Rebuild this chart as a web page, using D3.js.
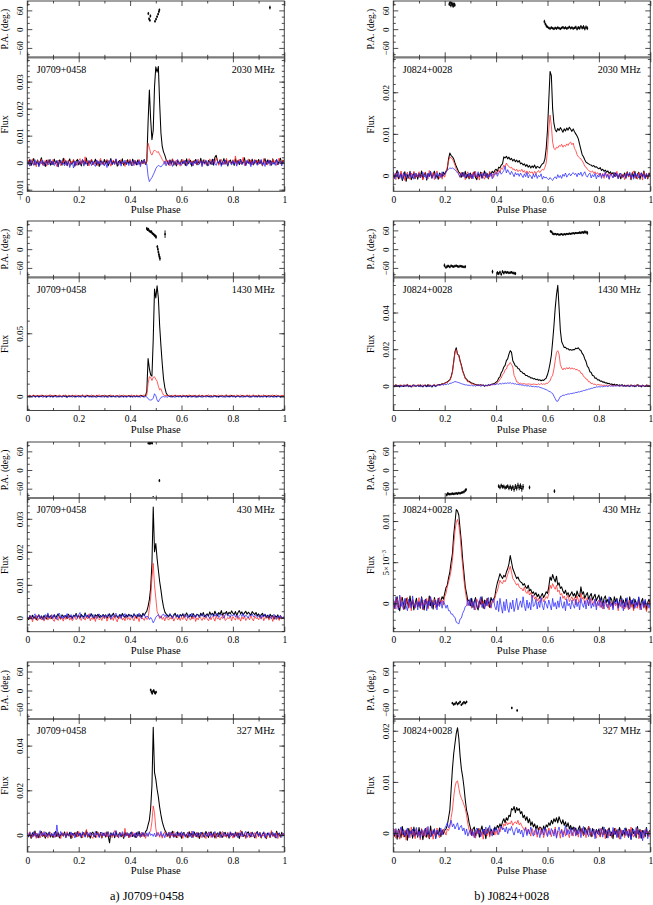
<!DOCTYPE html>
<html><head><meta charset="utf-8">
<script src="https://cdn.jsdelivr.net/npm/d3@7"></script>
<style>body{margin:0;background:#fff}svg{display:block}</style>
</head><body><svg id="c" width="653" height="905"></svg>
<script>
// ---------------- DATA ----------------
const STEP = 0.005;   // pulse-phase bin width of the profile arrays
const UNIT = 1e-4;    // flux unit of the profile arrays
const psrNames = ["J0709+0458","J0824+0028"];
const captions = ["a) J0709+0458","b) J0824+0028"];
const freqLabels = ["2030 MHz","1430 MHz","430 MHz","327 MHz"];
const phaseTicks = [0,0.2,0.4,0.6,0.8,1];
const phaseMinor = [0.1,0.3,0.5,0.7,0.9];
const paTicks = [-60,0,60];
const paMinor = [-80,-40,-20,20,40,80];

// Flux tick labels per panel
const FT_0709_2030 = [-0.01,0,0.01,0.02,0.03];
const FT_0709_1430 = [0,0.05];
const FT_0709_430  = [0,0.01,0.02,0.03];
const FT_0709_327  = [0,0.02,0.04];
const FT_0824_2030 = [0,0.01,0.02];
const FT_0824_1430 = [0,0.02,0.04];
const FT_0824_430  = [0,0.005,0.01];
const FT_0824_327  = [0,0.01,0.02];

// ---- J0709+0458 2030 MHz ----
const I_0709_2030 = [8,-5,12,-10,3,15,-8,-2,10,-12,5,18,-6,2,-14,9,-3,11,-9,4,
-7,13,-2,6,-15,10,1,-9,16,-4,7,-11,3,14,-6,-1,9,-13,5,12,
-8,4,-12,10,2,-5,17,-10,6,-3,11,-7,0,13,-9,5,-14,8,3,-6,
12,-4,9,-11,1,15,-7,6,-2,10,-13,4,8,-5,14,-9,2,-6,11,-3,
7,-10,13,-4,5,-8,10,-2,-6,9,-3,12,-7,5,150,269,160,85,120,280,
355,335,356,220,110,60,40,28,12,5,-8,10,-4,13,-9,3,-12,8,1,-6,
11,-3,7,-10,14,-5,2,9,-13,6,-1,12,-8,4,-4,16,-7,10,-2,5,
-11,8,3,-6,13,-9,20,27,6,-4,11,-8,2,15,-5,9,-12,4,10,-3,
6,-10,14,-2,8,-7,12,-4,3,18,-9,5,-1,11,-6,13,-8,2,9,-5,
12,-3,7,-11,4,15,-6,10,-2,8,-9,14,-4,3,11,-7,6,16,-5,9,2];
const L_0709_2030 = [-4,10,-12,6,14,-8,3,-15,9,1,-6,13,-10,4,8,-13,11,-2,6,-9,
12,-5,2,-14,9,5,-11,7,-3,15,-8,1,10,-12,6,-4,13,-7,3,-10,
8,15,-6,11,-9,22,-3,7,-12,5,13,-8,2,-5,10,-11,4,16,-7,1,
-9,6,12,-4,8,-13,3,10,-6,14,-2,-10,7,11,-5,2,-14,9,-1,6,
13,-7,4,-11,9,2,-6,12,-9,5,-3,10,-8,8,72,55,35,28,40,47,
42,38,41,30,22,12,5,-6,11,-3,8,-12,5,14,-7,2,10,-9,4,-13,
7,12,-5,9,-10,3,15,-4,6,-12,10,1,-8,13,-3,7,-11,5,11,-6,
2,-9,14,4,-6,10,-2,18,8,-10,5,12,-7,3,-4,16,-8,9,1,-5,
11,-3,25,-8,6,13,-5,2,20,-11,7,-1,14,-6,9,-9,4,12,-2,8,
-7,10,3,-12,15,-4,6,-9,11,2,-6,13,-3,8,-10,5,17,-5,1,9,-4];
const V_0709_2030 = [-6,4,-13,8,-2,-10,11,-7,3,-15,6,-4,9,-12,1,7,-9,-3,12,-8,
5,-11,-2,8,-14,3,10,-6,-1,-12,7,-9,4,-18,-5,2,-20,6,-10,3,
9,-7,-1,12,-13,5,-4,-9,8,2,-11,6,-6,-14,10,-3,4,-10,7,-5,
-12,3,-18,8,-4,11,-8,1,-7,14,-2,-10,6,-13,5,-1,9,-8,2,-11,
7,-4,-12,10,-6,3,-9,8,-15,4,-1,11,-7,-5,-50,-70,-62,-55,-45,-35,
-22,-15,-10,-13,-16,-10,-5,6,-12,3,-8,10,-4,-14,7,-2,-9,12,-6,1,
-10,5,-3,9,-13,-1,8,-7,2,-11,6,-4,11,-9,-2,7,-15,4,-6,10,
-3,-12,6,1,-8,13,-5,-10,4,-2,9,-14,3,-7,10,-4,-11,5,0,-9,
8,-6,2,-13,7,-3,11,-8,-1,5,-12,9,-4,3,-15,6,-7,10,-2,-10,
4,-5,12,-9,1,-14,7,-3,9,-11,5,-6,2,-10,13,-8,-1,6,-12,3,-5];
const PA_0709_2030 = [[0.471,50,5],[0.474,33,5],[0.477,28,4],[0.479,42,5],[0.497,25,4],[0.501,32,4],[0.505,40,4],[0.509,48,4],[0.512,56,4],[0.514,62,4],[0.944,69,6]];

// ---- J0709+0458 1430 MHz ----
const I_0709_1430 = [3,-2,5,-4,1,6,-3,0,4,-5,2,-1,7,-3,3,-6,1,5,-2,4,
-4,2,6,-1,-5,3,0,-3,5,-2,4,-6,1,3,-4,6,-1,2,-5,0,
4,-3,1,5,-2,-4,3,7,-1,2,-5,4,0,-3,6,-2,1,-4,3,5,
-1,4,-5,2,6,-3,0,3,-4,1,5,-2,-6,4,2,-1,3,-5,1,6,
-3,2,-1,5,-4,3,0,-2,4,6,-3,1,5,40,300,220,170,160,450,850,
780,876,780,560,400,260,140,70,28,10,3,-2,4,-5,1,6,-3,2,-1,5,
-4,1,3,-2,6,-5,0,4,-1,-3,5,2,-6,3,1,-4,7,-2,0,3,
5,-3,-1,4,-5,2,6,-2,1,-4,3,0,5,-6,2,4,-3,1,-1,6,
-2,3,-5,1,4,-1,-4,6,2,-3,0,5,-2,3,-6,1,4,-1,2,-4,
6,-2,1,-5,3,4,-3,0,5,-1,2,-4,6,-2,-3,4,1,-5,3,0,2];
const L_0709_1430 = [6,1,9,-1,5,10,2,7,-2,8,4,11,0,6,-3,9,3,7,12,1,
5,10,-1,6,2,9,4,-2,8,3,11,0,7,5,-1,10,2,6,9,3,
-2,8,4,11,1,6,9,-1,5,3,10,2,7,-2,8,4,12,0,6,3,
9,1,5,-1,7,10,3,6,-2,8,4,2,11,0,5,9,3,7,-1,6,
4,10,2,7,-1,8,5,3,9,1,6,11,0,10,100,155,150,125,150,155,
135,120,80,50,60,30,10,5,8,2,6,9,-1,7,3,10,4,1,8,5,
2,9,6,-1,7,4,11,1,5,8,3,10,-2,6,9,2,7,4,0,8,
5,11,3,7,-1,9,4,6,2,10,1,8,5,-2,7,12,3,6,9,0,
4,8,1,10,6,3,9,-1,7,5,2,11,4,8,0,6,10,3,7,2,
9,-1,6,4,11,2,7,5,-2,8,3,10,1,6,9,4,0,7,5,8,3];
const V_0709_1430 = [-5,1,-8,-2,-6,2,-9,-3,0,-7,-4,3,-10,-1,-5,-8,1,-3,-6,-2,
-9,0,-4,-7,2,-5,-1,-8,-3,1,-6,-10,-2,-4,3,-7,-1,-9,-3,0,
-6,-2,-8,1,-4,-9,-3,2,-7,-5,0,-8,-2,-6,-10,-1,-4,1,-7,-3,
-8,-1,-5,-9,0,-4,-6,2,-3,-8,-2,-7,1,-5,-3,-9,-1,-6,-4,0,
-7,-3,-9,-1,-5,2,-6,-4,-8,0,-3,-7,-2,-5,-20,-28,-30,-28,-15,20,
5,-30,-45,-25,-10,-5,-2,-6,-3,-8,1,-4,-7,-2,-5,-9,0,-3,-6,-1,
-8,-4,2,-6,-3,-9,-1,-5,-7,0,-4,-8,-2,-6,1,-3,-9,-5,-1,-7,
-3,0,-6,-8,-2,-5,1,-7,-4,-9,-1,-3,-6,2,-8,-4,-2,-7,-5,0,
-6,-2,-9,-4,1,-7,-3,-5,-8,-1,-6,0,-4,-9,-2,-5,2,-7,-3,-6,
-1,-8,-4,-2,-6,0,-9,-3,-5,-7,1,-4,-8,-2,-6,-3,-1,-9,-5,-2,-4];
const PA_0709_1430 = [[0.465,66,5],[0.468,62,4],[0.471,64,4],[0.474,59,4],[0.477,57,4],[0.480,55,4],[0.483,56,4],[0.486,51,4],[0.489,49,4],[0.492,47,4],[0.495,44,4],[0.498,42,5],[0.501,39,6],[0.506,8,5],[0.508,0,5],[0.510,-9,5],[0.512,-17,6],[0.514,-24,6],[0.516,-30,7],[0.536,48,12]];

// ---- J0709+0458 430 MHz ----
const I_0709_430 = [2,-5,6,-3,8,-1,4,-6,3,9,-2,5,-4,7,1,-3,10,0,6,-2,
4,8,-1,6,12,2,-3,9,5,1,7,-2,11,3,6,-1,8,4,13,2,
7,-1,10,5,3,15,2,8,0,6,12,4,-2,9,5,11,1,7,3,10,
4,9,-1,6,12,3,8,14,2,7,5,-1,10,4,13,6,1,9,3,11,
5,8,2,12,6,0,10,4,9,3,14,7,15,20,35,55,90,165,336,200,
225,180,144,110,84,55,33,18,12,8,3,11,6,1,9,14,4,7,-1,10,
5,12,2,8,15,6,3,10,-1,13,7,4,11,9,2,14,6,16,3,8,
12,5,18,9,14,7,20,11,6,16,10,22,8,15,13,19,9,17,12,21,
14,10,19,7,16,22,12,18,9,15,20,11,17,13,8,19,14,10,16,6,
12,3,9,14,5,10,1,8,-2,11,4,7,-4,6,2,9,-3,5,0,-1,3];
const L_0709_430 = [-8,2,-5,6,-12,0,-3,8,-9,-1,5,-6,3,-10,-2,7,-7,1,-4,10,
-6,-11,3,-2,-8,6,-4,1,-10,4,-5,-1,8,-7,2,-9,-3,5,-6,0,
9,-4,-8,2,-1,-7,5,-3,12,-9,0,-5,3,-11,6,-2,-6,1,-8,4,
-3,7,-10,-1,4,-6,2,-8,8,-4,-12,3,-2,5,-7,0,-9,6,-5,1,
-7,3,-2,-9,5,-4,1,-11,6,-3,-1,-8,4,-5,-2,30,60,120,165,100,
60,20,10,-2,6,-5,2,-9,4,-3,-7,1,-4,5,-10,-1,3,-6,0,-8,
2,-5,7,-3,-9,4,-1,-7,3,-4,8,-11,0,-6,5,-2,-8,1,-5,6,
-3,-9,2,-6,4,-1,-10,7,-4,0,-7,3,-2,9,-8,-5,1,-3,6,-9,
4,-2,-7,8,-5,1,-10,3,-4,6,-8,-1,2,-6,7,-3,-9,5,-2,0,
-6,3,-4,8,-9,1,-2,5,-7,-1,4,-11,6,-3,-5,2,-8,7,-4,-1,2];
const V_0709_430 = [4,-3,8,1,-5,6,12,-2,3,9,-4,7,0,-6,10,2,15,-1,5,8,
-2,11,4,-5,9,14,0,6,-3,8,2,13,-1,5,10,-4,7,3,12,-2,
9,16,2,6,-3,11,4,8,-1,13,5,0,10,3,-2,7,12,1,6,9,
-1,8,3,12,5,-3,10,2,7,14,0,6,11,-2,9,4,13,1,8,5,
10,3,-1,12,6,9,2,14,4,-2,8,11,0,5,3,-5,1,-5,-15,-8,
2,6,10,3,-1,8,12,4,9,1,6,13,5,-2,10,7,3,11,0,8,
4,9,12,2,7,-1,10,5,14,3,8,0,11,6,2,9,13,4,7,1,
10,5,-2,8,12,3,9,6,14,1,7,11,4,-1,9,13,5,8,2,10,
6,12,3,9,0,7,11,4,13,2,8,5,-1,10,6,12,3,7,9,1,
5,10,-2,8,3,12,6,0,9,4,-3,7,11,2,-4,6,1,8,-1,3,0];
const PA_0709_430 = [[0.471,86,4],[0.474,88,4],[0.477,85,4],[0.480,87,4],[0.483,89,4],[0.486,86,4],[0.490,-88,4],[0.514,-34,5]];

// ---- J0709+0458 327 MHz ----
const I_0709_327 = [12,-8,5,-15,10,-3,18,-10,2,-12,8,15,-6,3,-14,9,-2,13,-9,6,
-11,4,16,-7,10,-13,1,8,-5,14,-10,6,-3,12,-16,7,-1,10,-8,15,
-4,9,-12,5,11,-6,20,-9,3,-14,7,13,-2,-10,16,4,-7,11,-13,8,
2,-9,14,-5,-35,10,-3,7,-12,15,-6,1,11,-8,5,-15,12,-2,9,-10,
6,13,-7,3,-11,10,-4,16,-9,2,8,-6,15,22,45,67,120,220,482,280,
250,205,170,125,90,60,40,22,12,-5,10,-13,6,17,-8,3,-11,14,-2,9,
-14,7,11,-6,2,-12,15,-4,8,-10,13,1,-7,10,-15,5,12,-3,-9,16,
3,-11,8,14,-5,10,-13,2,9,-7,15,-2,-10,6,12,-8,4,-14,11,-1,
7,-9,13,-4,10,-15,5,16,-6,2,-11,9,14,-3,-8,12,1,-12,8,15,
-5,10,-13,4,11,-7,-16,9,2,-10,14,-4,6,-12,17,-1,8,-9,12,-3,5];
const L_0709_327 = [-10,6,15,-12,3,-7,11,-15,8,1,-13,10,-4,16,-9,5,-14,7,12,-6,
2,-11,9,14,-8,4,-16,11,-3,7,-12,15,-5,1,10,-14,6,-2,13,-9,
16,-6,3,-13,10,-1,25,-10,5,12,-8,-15,7,2,-11,14,-4,9,-14,6,
-3,11,-9,15,-6,4,-12,8,20,-7,1,-14,12,-2,6,-10,30,-5,9,-13,
3,-8,14,-4,10,-12,5,-1,-9,13,-6,8,-15,4,-3,11,20,60,130,100,
30,-5,12,-10,6,-14,3,15,-7,-2,10,-12,8,-6,16,-9,1,-13,11,-4,
5,-15,9,2,-11,13,-7,-3,18,-10,4,-8,12,-14,6,1,-12,10,-5,-16,
8,-4,14,-11,3,-7,11,-15,6,-1,-13,9,16,-8,2,-10,13,-5,-9,10,
-14,5,-6,12,-11,1,22,-9,-3,10,-16,7,4,-12,14,-7,-2,11,-15,6,
-8,13,-12,3,-5,10,-15,-1,8,-13,20,-6,2,-10,11,-16,5,-9,-4,9,-6];
const V_0709_327 = [5,-8,12,2,-10,15,-3,8,-12,6,20,-5,10,-1,14,-9,3,11,-6,7,
-4,13,-10,45,1,-7,16,-2,6,6,-11,10,3,-6,14,-1,8,-13,5,12,
-3,9,-8,15,2,-10,7,12,-5,11,-2,4,-9,16,0,8,-12,6,13,-4,
10,-7,3,14,-9,6,-1,12,-6,20,2,-11,8,-4,15,1,-8,11,-2,7,
-10,13,4,-6,9,-13,15,-3,7,-8,12,1,-5,10,-7,14,-2,5,-6,8,
-9,11,2,-4,16,-7,6,-12,10,3,-6,14,-1,8,-11,5,12,-3,9,-8,
15,-2,7,-10,4,12,-6,9,-13,18,1,-5,11,-9,6,13,-3,-8,10,2,
-7,14,-4,8,-11,5,16,-1,-9,10,3,-12,7,12,-5,0,9,-10,15,-3,
6,-9,11,2,-13,8,-4,14,-7,5,17,-11,1,9,-6,13,-2,-10,7,12,
-5,10,-8,3,15,-12,6,-1,11,-9,4,13,-6,8,-14,2,10,-4,-11,7,3];
const PA_0709_327 = [[0.480,2,4],[0.483,-4,4],[0.486,-9,4],[0.489,-3,4],[0.492,0,4],[0.495,-6,4],[0.498,-9,4],[0.501,-5,4]];

// ---- J0824+0028 2030 MHz ----
const I_0824_2030 = [8,-5,3,12,-8,-2,6,-12,-4,9,-14,2,-6,10,-10,-3,7,-7,4,-9,
5,-4,11,-8,2,7,-11,4,-2,9,-6,3,10,-5,1,-9,6,2,-3,8,
3,10,15,40,54,48,45,40,30,22,15,8,5,-4,7,-2,10,-6,3,-8,
6,-7,2,9,-5,-10,4,-3,8,-6,1,11,-4,5,-8,7,3,10,6,12,
15,10,20,18,25,28,45,42,46,40,44,38,41,35,39,33,37,32,36,28,
30,25,28,22,26,20,24,18,23,19,25,17,22,20,18,24,28,30,40,65,
110,180,250,240,160,125,110,105,113,108,115,110,104,112,107,114,109,116,111,106,
112,105,100,95,88,75,62,50,45,38,32,30,28,26,25,22,24,20,21,18,
16,19,12,15,10,13,8,11,5,9,3,7,-2,6,0,-5,4,-8,2,-3,
6,-6,9,-2,4,-10,7,-4,10,-7,3,8,-9,5,-3,11,-6,2,-8,6,0];
const L_0824_2030 = [-6,4,-10,7,2,-8,11,-3,5,-12,1,8,-5,-9,6,-2,10,-7,3,-4,
9,-6,2,-11,5,8,-3,-8,12,0,-5,7,-10,4,11,-2,-7,5,-9,3,
-4,8,20,35,45,42,40,33,25,15,10,2,-5,8,-3,6,-10,4,9,-6,
2,-8,7,-3,10,-6,1,-11,5,8,-4,-9,6,2,-7,10,-2,4,-5,8,
10,3,14,8,18,15,25,20,30,24,22,18,20,14,16,11,15,9,13,10,
15,8,12,5,11,4,10,6,9,2,10,5,8,12,7,11,15,13,20,30,
60,110,145,120,80,65,62,68,66,72,70,75,68,73,70,76,72,78,80,74,
78,65,60,50,45,42,40,35,30,22,20,15,12,10,8,11,5,9,3,7,
1,6,-3,5,-7,8,-2,4,-9,6,0,-5,7,-3,10,-8,2,5,-6,3,
-10,4,8,-4,2,-8,6,11,-5,1,-9,7,-2,4,-11,9,-3,5,-7,2,-3];
const V_0824_2030 = [2,-8,5,-4,9,-6,3,-10,7,-2,4,-7,0,8,-5,3,-9,6,-3,1,
5,-6,-1,8,-4,2,-9,6,-3,10,-7,1,4,-8,7,-2,3,-5,9,-1,
4,8,12,15,18,17,18,16,14,10,6,3,-4,5,-2,8,-6,2,-3,6,
-5,3,-8,7,1,-4,9,-2,4,-7,5,-1,8,-6,2,-3,6,-8,3,1,
8,-2,5,10,3,7,12,22,6,14,8,2,10,4,-3,7,1,5,-2,6,
0,-5,4,-3,7,-6,2,-1,-8,3,-4,5,-7,0,-3,4,-9,-2,-6,-4,
-8,-10,-5,-9,-12,-6,-3,-8,2,-5,0,-7,3,-2,6,-4,1,5,-1,4,
7,2,5,-3,6,1,8,-2,4,9,0,-4,3,6,-6,2,-3,5,-8,1,
-4,6,-7,3,-2,8,-5,2,-9,4,0,-6,7,-3,5,-8,1,6,-4,-2,
3,-7,5,-1,8,-5,2,-9,6,-3,4,-6,1,7,-4,3,-8,5,-2,0,2];
const PA_0824_2030 = [[0.218,80,6],[0.221,85,5],[0.224,76,6],[0.227,83,5],[0.230,79,6],[0.233,74,6],[0.236,81,5],[0.239,77,6],
[0.588,24,6],[0.592,16,5],[0.596,10,5],[0.600,7,4],[0.605,4,4],[0.610,2,4],[0.615,5,4],[0.620,3,4],[0.625,1,4],[0.630,4,4],[0.635,2,4],[0.640,5,4],[0.645,3,4],[0.650,1,4],[0.655,4,4],[0.660,6,4],[0.665,3,4],[0.670,5,4],[0.675,2,4],[0.680,4,4],[0.685,7,4],[0.690,3,4],[0.695,5,4],[0.700,2,4],[0.705,4,4],[0.710,6,5],[0.715,1,5],[0.720,5,5],[0.725,3,5],[0.730,8,5],[0.735,4,5],[0.740,7,6],[0.745,2,6],[0.750,6,6],[0.755,3,6]];

// ---- J0824+0028 1430 MHz ----
const I_0824_1430 = [3,-4,6,-1,2,-5,4,0,-3,5,-2,7,-4,1,-6,3,5,-2,0,4,
-3,6,-1,-5,4,2,-4,7,-2,3,-6,1,5,-3,4,6,8,7,12,10,
15,19,21,27,33,50,78,133,187,208,172,168,137,113,82,63,43,37,26,25,
20,15,14,10,8,5,6,3,7,2,5,-2,4,1,6,3,8,10,12,15,
21,26,42,50,72,83,103,112,138,147,173,192,183,137,123,109,107,95,92,79,
77,68,67,57,57,50,50,43,44,38,40,34,37,31,34,28,32,30,37,43,
62,88,123,167,243,327,424,497,548,427,303,242,225,209,211,202,203,195,198,194,
199,197,206,203,208,197,193,177,168,147,133,107,98,77,73,57,55,42,43,32,
34,26,27,20,22,16,17,12,14,8,11,5,10,3,8,1,6,0,7,-1,
3,-2,4,0,-3,5,-1,2,-4,3,6,-2,1,-5,4,0,-3,5,-1,2,0];
const L_0824_1430 = [5,-2,8,1,-4,6,3,-1,7,-3,4,9,-2,5,0,-5,6,2,-1,4,
7,-3,2,5,-1,8,0,-4,6,3,-2,5,9,1,4,6,5,8,10,12,
13,18,18,26,30,47,73,128,182,198,169,163,132,108,77,61,39,35,22,23,
15,12,10,8,6,4,5,2,6,1,4,-1,3,0,5,2,6,8,7,10,
10,20,23,37,43,62,68,88,92,113,115,128,117,103,57,43,22,21,12,15,
10,12,12,10,9,11,10,9,8,10,9,8,7,12,6,14,8,11,9,14,
13,22,28,47,58,92,138,183,192,173,117,98,87,98,90,100,92,101,91,99,
92,95,87,91,82,83,69,68,52,48,37,35,22,23,12,15,7,11,3,8,
7,4,6,2,5,1,4,-1,3,6,0,4,-2,5,1,3,-3,4,2,-1,
5,1,-2,4,0,6,-3,2,5,-1,3,7,-2,1,4,-4,3,0,5,2,1];
const V_0824_1430 = [-2,3,-5,1,-3,4,-6,0,2,-4,5,-1,-3,3,-5,2,-2,4,-4,1,
-1,-5,3,-2,4,-4,1,-6,2,0,-3,5,-1,-4,2,6,3,5,8,4,
10,6,12,8,15,14,18,20,24,22,20,18,15,12,10,8,5,6,3,4,
1,5,-1,3,-2,4,0,6,-3,2,5,-1,4,1,7,3,8,5,10,6,
9,12,8,14,10,15,12,16,13,17,14,18,12,15,10,12,8,10,6,7,
4,5,1,3,-1,2,-2,0,-4,-2,-5,-3,-6,-4,-8,-10,-12,-15,-18,-20,
-24,-29,-31,-37,-41,-56,-69,-83,-84,-71,-58,-56,-50,-52,-47,-47,-43,-45,-41,-42,
-39,-39,-35,-36,-32,-33,-29,-29,-25,-25,-21,-21,-17,-17,-13,-13,-9,-9,-5,-6,
-4,-6,-2,-5,-1,-3,0,-4,2,-2,1,-3,3,-1,0,2,-2,4,-1,1,
-3,2,-1,4,-4,0,3,-2,1,-5,2,4,-3,0,-1,3,-4,2,0,-2,1];
const PA_0824_1430 = [[0.199,-52,6],[0.205,-58,5],[0.210,-55,5],[0.215,-54,4],[0.220,-57,4],[0.225,-53,4],[0.230,-55,4],[0.235,-56,4],[0.240,-54,4],[0.245,-53,4],[0.250,-55,4],[0.255,-56,4],[0.260,-54,4],[0.265,-55,4],[0.270,-56,4],[0.275,-57,4],[0.280,-56,5],
[0.386,-72,6],[0.405,-76,6],[0.410,-78,5],[0.415,-74,5],[0.420,-80,5],[0.425,-72,5],[0.430,-76,5],[0.435,-73,4],[0.440,-75,4],[0.445,-74,4],[0.450,-76,4],[0.455,-75,4],[0.460,-74,4],[0.465,-76,4],[0.470,-77,5],[0.475,-78,5],
[0.612,57,4],[0.616,55,4],[0.620,50,4],[0.625,48,4],[0.630,49,3],[0.635,47,3],[0.640,48,3],[0.645,46,3],[0.650,47,3],[0.655,48,3],[0.660,46,3],[0.665,48,3],[0.670,47,3],[0.675,49,3],[0.680,48,3],[0.685,50,3],[0.690,49,3],[0.695,50,3],[0.700,51,3],[0.705,50,3],[0.710,52,3],[0.715,51,3],[0.720,52,3],[0.725,53,4],[0.730,52,4],[0.735,54,4],[0.740,53,4],[0.745,55,5],[0.750,54,5],[0.755,52,6]];

// ---- J0824+0028 430 MHz ----
const I_0824_430 = [5,-6,2,8,-4,-9,3,7,-2,-7,6,1,-5,9,-3,4,-8,0,6,-4,
2,-6,8,-2,-8,5,1,-5,9,-3,4,-7,7,0,-4,6,-1,3,8,5,
12,19,22,31,38,50,60,83,98,114,112,107,90,74,53,37,20,12,3,4,
-3,6,-5,2,7,-4,-8,3,-1,8,-6,4,-3,6,1,-5,7,3,5,8,
18,25,30,36,33,30,34,32,38,42,48,58,50,42,38,34,30,32,28,26,
25,22,24,20,18,22,15,17,12,14,10,13,8,11,6,9,12,7,10,14,
12,20,32,28,35,30,26,33,22,25,18,20,15,12,16,10,13,8,11,14,
9,12,7,15,10,8,20,11,14,6,10,13,5,9,12,4,8,11,3,7,
10,2,8,-3,6,9,1,5,-2,7,4,-4,8,2,6,-5,3,9,-1,4,
-4,6,1,-6,8,-2,4,-7,5,0,-3,7,-5,2,6,-4,3,-8,1,5,-2];
const L_0824_430 = [-4,3,-7,6,0,-5,8,-3,-8,4,-1,7,-6,2,-9,5,-2,-6,3,-3,
7,-5,1,-8,4,-2,6,-7,3,8,-4,-1,5,-6,2,-3,7,0,4,-2,
8,12,20,26,32,40,52,70,88,98,102,95,82,62,45,28,15,5,-3,0,
4,-6,2,-3,-8,5,1,-5,6,-2,3,-7,0,5,-4,2,-6,4,1,6,
12,15,22,28,25,24,28,26,30,35,40,45,38,30,28,25,22,24,20,18,
18,15,20,14,12,16,10,13,7,10,5,8,3,6,1,4,7,2,5,8,
6,12,22,18,24,20,17,22,14,16,10,12,6,9,4,7,10,2,5,8,
3,7,-2,9,4,1,12,5,8,-1,4,7,-3,3,6,-2,2,5,-4,1,
4,-5,2,-7,0,3,-4,-1,-8,2,-2,-6,3,-3,0,-9,-1,4,-6,-2,
-7,2,-3,-8,4,-5,0,-9,1,-4,-6,3,-8,-2,1,-6,-1,-10,-3,2,-5];
const V_0824_430 = [4,-6,8,-2,-8,10,-4,2,-7,6,-3,-9,5,1,-6,9,-2,-5,3,-8,
2,-4,7,-7,0,5,-9,3,-3,8,-6,1,-2,4,-8,6,-4,2,-6,3,
-1,-6,-2,-9,-9,-13,-13,-16,-17,-23,-24,-25,-19,-18,-12,-9,-4,-3,4,-3,
6,-4,2,-8,5,-2,-6,3,8,-5,0,-7,4,-3,7,-1,-5,2,6,-4,
-8,3,-10,6,-4,-12,2,-9,5,-6,-11,1,-7,4,-10,-3,6,-8,-2,3,
-5,8,-3,-9,4,-6,1,-8,10,-4,-2,5,-7,2,-5,7,-3,-8,3,-1,
-6,4,-2,-8,6,-4,1,-7,3,-5,8,-2,-6,2,-9,5,-3,0,-7,4,
-2,-6,5,-4,2,-8,6,-1,-5,3,-7,4,-3,7,-6,0,-4,5,-8,2,
-3,6,-5,1,-7,4,-2,-6,8,-4,0,-8,3,-1,5,-6,2,-4,6,-9,
1,-5,7,-3,-7,4,-1,6,-6,2,-4,8,-2,-8,3,-5,5,-3,0,-6,2];
const PA_0824_430 = [[0.208,-80,5],[0.212,-76,5],[0.216,-77,4],[0.220,-78,4],[0.225,-77,4],[0.230,-76,4],[0.235,-77,4],[0.240,-76,4],[0.245,-75,4],[0.250,-76,4],[0.255,-74,4],[0.260,-75,4],[0.265,-73,4],[0.270,-72,4],[0.275,-70,5],[0.280,-66,5],[0.283,-63,5],
[0.410,-52,6],[0.415,-56,6],[0.420,-50,6],[0.425,-54,6],[0.430,-53,6],[0.435,-57,6],[0.440,-55,6],[0.445,-52,6],[0.450,-58,7],[0.455,-54,7],[0.460,-60,7],[0.465,-55,7],[0.470,-62,8],[0.475,-53,8],[0.480,-58,8],[0.485,-50,9],[0.490,-56,9],[0.495,-52,9],[0.500,-60,10],[0.505,-54,9],[0.530,-56,6],[0.627,-68,6]];

// ---- J0824+0028 327 MHz ----
const I_0824_327 = [10,-6,4,-12,8,2,-9,13,-3,-7,6,-14,9,-2,5,-10,12,-5,3,-8,
11,-4,7,-13,2,9,-8,5,-11,14,-6,1,8,-10,4,-3,10,-7,6,-2,
5,8,15,30,45,85,125,155,175,195,206,185,150,125,110,90,65,45,35,20,
10,-4,8,12,-6,3,9,-8,5,14,-2,7,-11,4,10,-5,8,2,-3,12,
6,15,10,18,12,22,28,20,30,25,35,32,48,45,52,40,50,44,48,38,
42,30,35,25,32,20,28,15,22,12,18,8,15,5,12,10,2,14,6,16,
12,20,15,25,18,28,22,30,20,32,24,18,26,15,22,12,20,8,15,6,
12,4,10,-3,8,14,2,9,-5,11,6,-2,13,3,-7,9,1,-4,7,-1,
8,-6,5,12,-3,7,-9,4,10,-5,2,-11,9,-2,6,-8,11,3,-6,5,
-4,10,2,-8,6,-12,9,-1,4,-9,13,-3,7,-10,5,1,-7,11,-5,3,6];
const L_0824_327 = [-5,8,-10,3,6,-12,10,-2,-8,5,-14,7,1,-9,12,-4,4,-11,8,-6,
2,-13,9,-5,6,-8,11,-1,-10,4,7,-12,3,-6,10,-3,-9,5,-2,8,
3,-4,8,5,12,30,45,70,90,100,102,88,75,68,62,55,48,35,18,6,
-3,8,-6,2,-10,5,-1,9,-7,3,-12,6,0,-5,10,-8,4,-2,7,-4,
5,-3,10,2,12,8,18,14,22,16,20,18,24,15,20,22,18,25,16,20,
14,10,5,12,-2,8,3,-6,9,1,-4,7,-8,4,11,-3,6,-9,2,8,
-5,10,3,-7,6,-2,12,-8,4,1,-10,8,-3,5,-6,9,-1,-9,7,2,
-6,11,-3,4,-8,7,-1,10,-5,2,-9,6,13,-4,3,-7,8,-2,-10,5,
1,-8,9,-4,6,-11,3,8,-6,2,-9,5,-2,10,-7,4,-12,7,-1,3,
-9,5,-3,8,-6,12,-2,-8,4,-5,9,-11,2,6,-4,-10,7,-1,3,-7,4];
const V_0824_327 = [6,-4,9,1,-8,5,12,-3,7,-6,2,10,-9,4,-2,8,-7,3,11,-5,
4,-10,7,2,-6,9,-3,13,0,-8,5,-2,8,-11,6,1,-5,10,-4,3,
9,14,20,10,16,25,12,18,8,14,20,6,12,15,4,10,-3,8,-6,2,
7,-5,3,-9,5,10,-2,6,-7,1,8,-4,12,-1,4,15,0,-6,9,3,
11,4,-3,8,14,6,10,2,12,-1,9,5,13,3,-4,7,11,0,8,-2,
6,-8,3,10,-5,7,-2,12,1,-6,4,9,-3,6,-9,2,8,-4,11,0,
-7,5,-3,9,2,-6,8,-10,4,12,-1,6,-8,3,15,-4,7,-2,10,-5,
3,11,-6,5,-2,9,-9,4,13,-3,7,0,-7,10,2,-5,8,-11,6,1,
-4,9,3,-8,12,-1,5,-10,7,2,-6,11,-3,4,-9,8,1,-12,6,-2,
10,-5,4,-9,7,-13,2,8,-6,11,-2,5,-10,3,-15,6,-4,9,-11,1,-3];
const PA_0824_327 = [[0.230,-40,4],[0.235,-44,4],[0.240,-42,4],[0.245,-38,4],[0.250,-43,4],[0.255,-40,4],[0.260,-36,4],[0.265,-45,4],[0.270,-41,4],[0.275,-37,4],[0.280,-40,4],[0.285,-36,4],[0.461,-55,4],[0.482,-63,4]];

// ---------------- LAYOUT ----------------
const FONT = "'Liberation Serif','Times New Roman',serif";
const cols = [{x0:27.3,x1:284.3,capX:147},{x0:393.3,x1:650.3,capX:511.7}];
const rows = [{top:1,mid:57.3,bot:191.3},{top:221,mid:277.3,bot:410.5},{top:442,mid:498,bot:631.7},{top:662,mid:719,bot:852}];

const panels = [
 {col:0,row:0,I:I_0709_2030,L:L_0709_2030,V:V_0709_2030,pa:PA_0709_2030,dom:[-0.0106,0.039],ft:FT_0709_2030,minor:0.002},
 {col:0,row:1,I:I_0709_1430,L:L_0709_1430,V:V_0709_1430,pa:PA_0709_1430,dom:[-0.0113,0.0944],ft:FT_0709_1430,minor:0.01},
 {col:0,row:2,I:I_0709_430,L:L_0709_430,V:V_0709_430,pa:PA_0709_430,dom:[-0.0042,0.0363],ft:FT_0709_430,minor:0.002},
 {col:0,row:3,I:I_0709_327,L:L_0709_327,V:V_0709_327,pa:PA_0709_327,dom:[-0.0076,0.0519],ft:FT_0709_327,minor:0.005},
 {col:1,row:0,I:I_0824_2030,L:L_0824_2030,V:V_0824_2030,pa:PA_0824_2030,dom:[-0.0038,0.0284],ft:FT_0824_2030,minor:0.002},
 {col:1,row:1,I:I_0824_1430,L:L_0824_1430,V:V_0824_1430,pa:PA_0824_1430,dom:[-0.0134,0.0592],ft:FT_0824_1430,minor:0.005},
 {col:1,row:2,I:I_0824_430,L:L_0824_430,V:V_0824_430,pa:PA_0824_430,dom:[-0.00345,0.0128],ft:FT_0824_430,minor:0.001},
 {col:1,row:3,I:I_0824_327,L:L_0824_327,V:V_0824_327,pa:PA_0824_327,dom:[-0.0037,0.0223],ft:FT_0824_327,minor:0.002}
];

const svg = d3.select("#c");
const defs = svg.append("defs");
const noLab = () => "";

function axis(fn, scale, vals, len, fmt, tr, size){
  const g = svg.append("g").attr("transform", tr)
    .call(fn(scale).tickValues(vals).tickSize(-len).tickPadding(5).tickFormat(fmt || noLab));
  g.attr("font-family", FONT).attr("font-size", size || 9);
  g.select(".domain").remove();
  g.selectAll(".tick line").attr("stroke", "#222").attr("stroke-width", 0.8);
  g.selectAll(".tick text").attr("fill", "#000");
  return g;
}
function rotLabels(g){
  g.selectAll(".tick text").attr("x", null).attr("dy", null)
   .attr("text-anchor", "middle").attr("transform", "translate(-4.5,0) rotate(-90)");
}
const fmtX = d => d3.format("~g")(d);
const fmtF = d => d === 0 ? "0" : d3.format("~g")(d);

panels.forEach((p, k) => {
  const c = cols[p.col], r = rows[p.row];
  const x = d3.scaleLinear().domain([0, 1]).range([c.x0, c.x1]);
  const yPA = d3.scaleLinear().domain([-90, 90]).range([r.mid, r.top]);
  const yF = d3.scaleLinear().domain(p.dom).range([r.bot, r.mid]);

  defs.append("clipPath").attr("id", "cf" + k).append("rect")
    .attr("x", c.x0).attr("y", r.mid).attr("width", c.x1 - c.x0).attr("height", r.bot - r.mid);
  defs.append("clipPath").attr("id", "cp" + k).append("rect")
    .attr("x", c.x0).attr("y", r.top).attr("width", c.x1 - c.x0).attr("height", r.mid - r.top);

  // profiles
  const gF = svg.append("g").attr("clip-path", `url(#cf${k})`);
  const line = d3.line().x((d, i) => x(i * STEP)).y(d => yF(d * UNIT));
  [[p.I, "#000", 1.05, 1], [p.L, "#ff2a2a", 0.9, 0.85], [p.V, "#2a2aff", 0.9, 0.85]].forEach(([arr, col, w, o]) => {
    gF.append("path").datum(arr).attr("d", line).attr("fill", "none")
      .attr("stroke", col).attr("stroke-width", w).attr("stroke-opacity", o).attr("stroke-linejoin", "round");
  });

  // position angles
  const gP = svg.append("g").attr("clip-path", `url(#cp${k})`);
  gP.selectAll("line").data(p.pa).join("line")
    .attr("x1", d => x(d[0])).attr("x2", d => x(d[0]))
    .attr("y1", d => yPA(d[1] - d[2])).attr("y2", d => yPA(d[1] + d[2]))
    .attr("stroke", "#000").attr("stroke-width", 0.9);
  gP.selectAll("rect").data(p.pa).join("rect")
    .attr("x", d => x(d[0]) - 0.8).attr("y", d => yPA(d[1]) - 0.8)
    .attr("width", 1.6).attr("height", 1.6).attr("fill", "#000");

  // frames
  svg.append("rect").attr("x", c.x0).attr("y", r.top).attr("width", c.x1 - c.x0).attr("height", r.bot - r.top)
    .attr("fill", "none").attr("stroke", "#444").attr("stroke-width", 1);
  svg.append("line").attr("x1", c.x0).attr("x2", c.x1).attr("y1", r.mid).attr("y2", r.mid)
    .attr("stroke", "#7a7a7a").attr("stroke-width", 2.2);

  // x ticks
  [r.top, r.mid].forEach(yy => {
    axis(d3.axisTop, x, phaseTicks, 5, null, `translate(0,${yy})`);
    axis(d3.axisTop, x, phaseMinor, 2.5, null, `translate(0,${yy})`);
  });
  [r.mid, r.bot].forEach(yy => {
    axis(d3.axisBottom, x, phaseTicks, 5, yy === r.bot ? fmtX : null, `translate(0,${yy})`, 9.5);
    axis(d3.axisBottom, x, phaseMinor, 2.5, null, `translate(0,${yy})`);
  });
  // PA ticks
  rotLabels(axis(d3.axisLeft, yPA, paTicks, 5, d3.format("~g"), `translate(${c.x0},0)`));
  axis(d3.axisLeft, yPA, paMinor, 2.5, null, `translate(${c.x0},0)`);
  axis(d3.axisRight, yPA, paTicks, 5, null, `translate(${c.x1},0)`);
  axis(d3.axisRight, yPA, paMinor, 2.5, null, `translate(${c.x1},0)`);
  // flux ticks
  const mn = d3.range(Math.ceil(p.dom[0] / p.minor - 1e-6), Math.floor(p.dom[1] / p.minor + 1e-6) + 1)
    .map(j => +(j * p.minor).toFixed(6));
  const gl = axis(d3.axisLeft, yF, p.ft, 5, fmtF, `translate(${c.x0},0)`);
  rotLabels(gl);
  gl.selectAll(".tick text").filter(d => Math.abs(d - 0.005) < 1e-9).each(function(){
    const t = d3.select(this).text("5×10");
    t.append("tspan").attr("dy", "-0.45em").attr("font-size", 6.5).text("−3");
  });
  axis(d3.axisLeft, yF, mn, 2.5, null, `translate(${c.x0},0)`);
  axis(d3.axisRight, yF, p.ft, 5, null, `translate(${c.x1},0)`);
  axis(d3.axisRight, yF, mn, 2.5, null, `translate(${c.x1},0)`);

  // labels
  const lx = c.x0 - 19.5;
  svg.append("text").attr("transform", `translate(${lx},${(r.top + r.mid) / 2}) rotate(-90)`)
    .attr("text-anchor", "middle").attr("font-family", FONT).attr("font-size", 9.5).text("P.A. (deg.)");
  svg.append("text").attr("transform", `translate(${lx},${(r.mid + r.bot) / 2}) rotate(-90)`)
    .attr("text-anchor", "middle").attr("font-family", FONT).attr("font-size", 10).text("Flux");
  svg.append("text").attr("x", (c.x0 + c.x1) / 2).attr("y", r.bot + 22)
    .attr("text-anchor", "middle").attr("font-family", FONT).attr("font-size", 10.5).text("Pulse Phase");
  svg.append("text").attr("x", c.x0 + 9.5).attr("y", r.mid + 15.2)
    .attr("font-family", FONT).attr("font-size", 10).text(psrNames[p.col]);
  svg.append("text").attr("x", c.x1 - 9.5).attr("y", r.mid + 15.2).attr("text-anchor", "end")
    .attr("font-family", FONT).attr("font-size", 10).text(freqLabels[p.row]);
});

cols.forEach((c, i) => {
  svg.append("text").attr("x", c.capX).attr("y", 900).attr("text-anchor", "middle")
    .attr("font-family", FONT).attr("font-size", 12.4).text(captions[i]);
});
</script></body></html>
